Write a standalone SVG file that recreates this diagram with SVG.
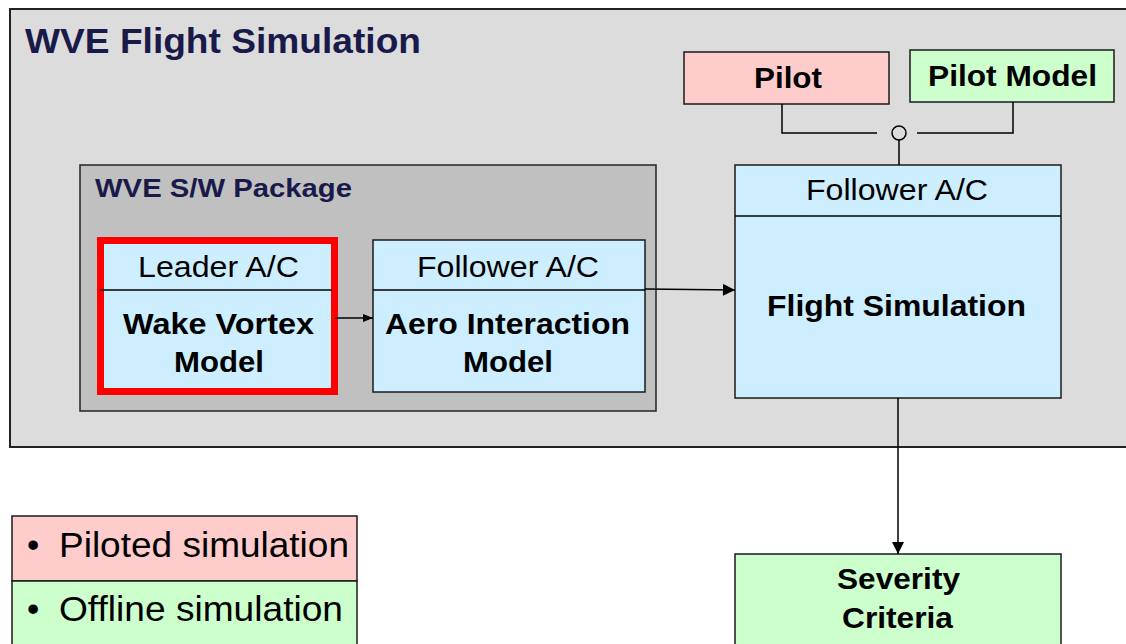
<svg xmlns="http://www.w3.org/2000/svg" width="1126" height="644" viewBox="0 0 1126 644">
  <defs>
    <marker id="arrow" viewBox="0 0 10 10" refX="10" refY="5" markerWidth="10" markerHeight="10" markerUnits="userSpaceOnUse" orient="auto">
      <path d="M0,1 L10,5 L0,9 Z" fill="#000"/>
    </marker>
    <marker id="arrowBig" viewBox="0 0 10 10" refX="10" refY="5" markerWidth="16" markerHeight="12" markerUnits="userSpaceOnUse" orient="auto">
      <path d="M0,0 L10,5 L0,10 Z" fill="#000"/>
    </marker>
    <style>
      text { font-family: "Liberation Sans", Arial, sans-serif; }
      .box { stroke: #1a1a1a; stroke-width: 1.5; }
      .blue { fill: #cceeff; }
      .pink { fill: #ffcccc; }
      .green { fill: #ccffcc; }
      .bold { font-weight: bold; }
      .mid { text-anchor: middle; }
      .line { fill: none; stroke: #000; stroke-width: 1.5; }
    </style>
  </defs>

  <rect width="1126" height="644" fill="#ffffff"/>

  <!-- outer container -->
  <g id="wve-flight-simulation">
    <rect x="10" y="9" width="1130" height="438" fill="#dcdcdc" stroke="#222" stroke-width="2"/>
    <text x="25" y="53" font-size="35" class="bold" fill="#1a1a4a" textLength="396" lengthAdjust="spacingAndGlyphs">WVE Flight Simulation</text>
  </g>

  <!-- software package container -->
  <g id="sw-package">
    <rect x="80" y="165" width="576" height="246" fill="#c0c0c0" stroke="#222" stroke-width="1.5"/>
    <text x="95" y="197" font-size="26" class="bold" fill="#1a1a4a" textLength="257" lengthAdjust="spacingAndGlyphs">WVE S/W Package</text>
  </g>

  <g id="pilot">
    <rect x="684" y="52" width="205" height="52" class="box pink"/>
    <text x="788" y="88" font-size="30" class="bold mid" textLength="68" lengthAdjust="spacingAndGlyphs">Pilot</text>
  </g>

  <g id="pilot-model">
    <rect x="910" y="50" width="204" height="52" class="box green"/>
    <text x="1012.5" y="86" font-size="30" class="bold mid" textLength="169" lengthAdjust="spacingAndGlyphs">Pilot Model</text>
  </g>

  <g id="leader-ac">
    <rect x="100.5" y="240.5" width="234" height="151" class="blue" stroke="#ff0000" stroke-width="7"/>
    <line x1="100" y1="290" x2="332" y2="290" stroke="#000" stroke-width="1.5"/>
    <text x="218.5" y="277" font-size="30" class="mid" textLength="161" lengthAdjust="spacingAndGlyphs">Leader A/C</text>
    <text x="218.5" y="334" font-size="30" class="bold mid" textLength="191" lengthAdjust="spacingAndGlyphs">Wake Vortex</text>
    <text x="219" y="372" font-size="30" class="bold mid" textLength="90" lengthAdjust="spacingAndGlyphs">Model</text>
  </g>

  <g id="aero-interaction">
    <rect x="373" y="240" width="272" height="152" class="box blue"/>
    <line x1="373" y1="290" x2="645" y2="290" stroke="#000" stroke-width="1.5"/>
    <text x="508" y="277" font-size="30" class="mid" textLength="182" lengthAdjust="spacingAndGlyphs">Follower A/C</text>
    <text x="507.5" y="334" font-size="30" class="bold mid" textLength="245" lengthAdjust="spacingAndGlyphs">Aero Interaction</text>
    <text x="508" y="372" font-size="30" class="bold mid" textLength="90" lengthAdjust="spacingAndGlyphs">Model</text>
  </g>

  <g id="flight-simulation">
    <rect x="735" y="165" width="326" height="233" class="box blue"/>
    <line x1="735" y1="216" x2="1061" y2="216" stroke="#000" stroke-width="1.5"/>
    <text x="897" y="200" font-size="30" class="mid" textLength="182" lengthAdjust="spacingAndGlyphs">Follower A/C</text>
    <text x="896.5" y="316" font-size="30" class="bold mid" textLength="259" lengthAdjust="spacingAndGlyphs">Flight Simulation</text>
  </g>

  <g id="severity-criteria">
    <rect x="735" y="554" width="326" height="100" class="box green"/>
    <text x="898.5" y="589" font-size="30" class="bold mid" textLength="123" lengthAdjust="spacingAndGlyphs">Severity</text>
    <text x="897.5" y="628" font-size="30" class="bold mid" textLength="111" lengthAdjust="spacingAndGlyphs">Criteria</text>
  </g>

  <g id="legend">
    <rect x="12" y="516" width="345" height="65" class="box pink"/>
    <rect x="12" y="581" width="345" height="73" class="box green"/>
    <text x="27" y="557" font-size="35">•</text>
    <text x="59" y="557" font-size="35" textLength="290" lengthAdjust="spacingAndGlyphs">Piloted simulation</text>
    <text x="27" y="621" font-size="35">•</text>
    <text x="59" y="621" font-size="35" textLength="284" lengthAdjust="spacingAndGlyphs">Offline simulation</text>
  </g>

  <!-- connectors -->
  <g id="connectors">
    <polyline points="782,104 782,133 877,133" class="line"/>
    <polyline points="917,133 1013,133 1013,102" class="line"/>
    <circle cx="899" cy="133" r="7" fill="none" stroke="#000" stroke-width="1.5"/>
    <line x1="899" y1="140" x2="899" y2="165" class="line"/>
    <line x1="335" y1="318" x2="373" y2="318" class="line" marker-end="url(#arrow)"/>
    <line x1="645" y1="289" x2="735" y2="290" class="line" marker-end="url(#arrowBig)"/>
    <line x1="898" y1="398" x2="898" y2="554" class="line" marker-end="url(#arrowBig)"/>
  </g>
</svg>
